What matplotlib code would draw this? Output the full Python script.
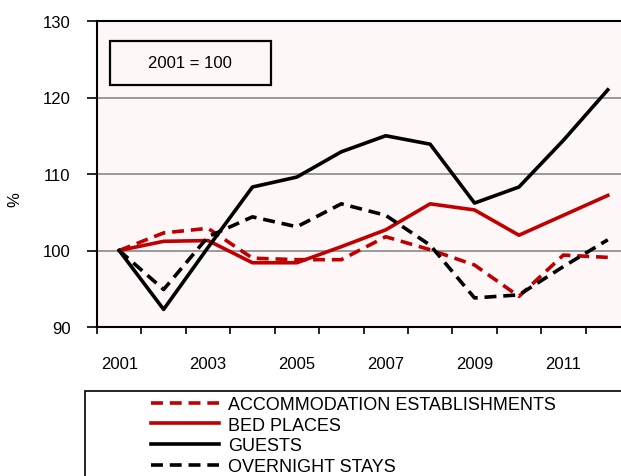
import matplotlib
matplotlib.use("Agg")
import matplotlib.pyplot as plt
from matplotlib.lines import Line2D
from matplotlib.patches import Rectangle

plt.rcParams['font.family'] = ['Liberation Sans', 'DejaVu Sans']

years = list(range(2001, 2013))
accommodation = [100, 102.3, 102.9, 99.0, 98.8, 98.8, 101.8, 100.1, 98.1, 94.0, 99.4, 99.1]
bed_places = [100, 101.2, 101.3, 98.4, 98.4, 100.5, 102.7, 106.1, 105.3, 102.0, 104.6, 107.2]
guests = [100, 92.3, 100.4, 108.3, 109.6, 112.9, 115.0, 113.9, 106.2, 108.3, 114.4, 121.0]
overnight = [100, 94.9, 101.8, 104.4, 103.1, 106.1, 104.6, 100.7, 93.8, 94.2, 97.9, 101.4]
labels = ["ACCOMMODATION ESTABLISHMENTS", "BED PLACES", "GUESTS", "OVERNIGHT STAYS"]

red = "#C00000"
dash = (3.3, 1.9)
lw = 2.6

fig = plt.figure(figsize=(6.21, 4.77), dpi=100)
ax = fig.add_axes([97/621, 1-328/477, 533/621, 306/477])
ax.set_facecolor("#FDF7F7")

ax.plot(years, accommodation, color=red, lw=lw, dashes=dash, zorder=3)
ax.plot(years, bed_places, color=red, lw=lw, zorder=3)
ax.plot(years, guests, color="black", lw=lw, zorder=3)
ax.plot(years, overnight, color="black", lw=lw, dashes=dash, zorder=3)

ax.set_xlim(2000.5, 2012.5)
ax.set_ylim(90, 130)
ax.set_yticks([90, 100, 110, 120, 130])
for v in [100, 110, 120]:
    ax.axhline(v, color="#999999", lw=1.4, zorder=1)

# category style axis: ticks between years, labels on every other year
ax.set_xticks([y - 0.5 for y in range(2001, 2014)])
ax.set_xticklabels([])
ax.set_xticks(years[::2], minor=True)
ax.set_xticklabels([str(y) for y in years[::2]], minor=True)
ax.tick_params(axis="x", which="major", direction="out", length=5, width=1.2)
ax.tick_params(axis="x", which="minor", length=0, pad=21, labelsize=12)
ax.tick_params(axis="y", direction="out", length=7, width=1.2, pad=12, labelsize=12)
for s in ["left", "bottom", "top"]:
    ax.spines[s].set_linewidth(1.5)
ax.spines["right"].set_visible(False)

fig.text(15/621, 1-200/477, "%", rotation=90, ha="center", va="center", fontsize=12)

# 2001 = 100 box
fig.patches.append(Rectangle((110/621, 1-86/477), 161/621, 44/477, transform=fig.transFigure,
                             fill=False, ec="black", lw=1.6, zorder=4))
fig.text(190/621, 1-64/477, "2001 = 100", ha="center", va="center", fontsize=12, zorder=5)

# legend box
fig.patches.append(Rectangle((85/621, -0.05), 0.9, 1-392/477+0.05, transform=fig.transFigure,
                             fill=False, ec="black", lw=1.2))
handles = [
    Line2D([], [], color=red, lw=lw, dashes=dash),
    Line2D([], [], color=red, lw=lw),
    Line2D([], [], color="black", lw=lw),
    Line2D([], [], color="black", lw=lw, dashes=dash),
]
fig.legend(handles, labels, loc="upper left", bbox_to_anchor=(151/621, 1-397/477),
           frameon=False, fontsize=13, handlelength=3.75, handletextpad=0.5,
           labelspacing=0.2, borderaxespad=0, borderpad=0)

fig.savefig("out.png", dpi=100)
